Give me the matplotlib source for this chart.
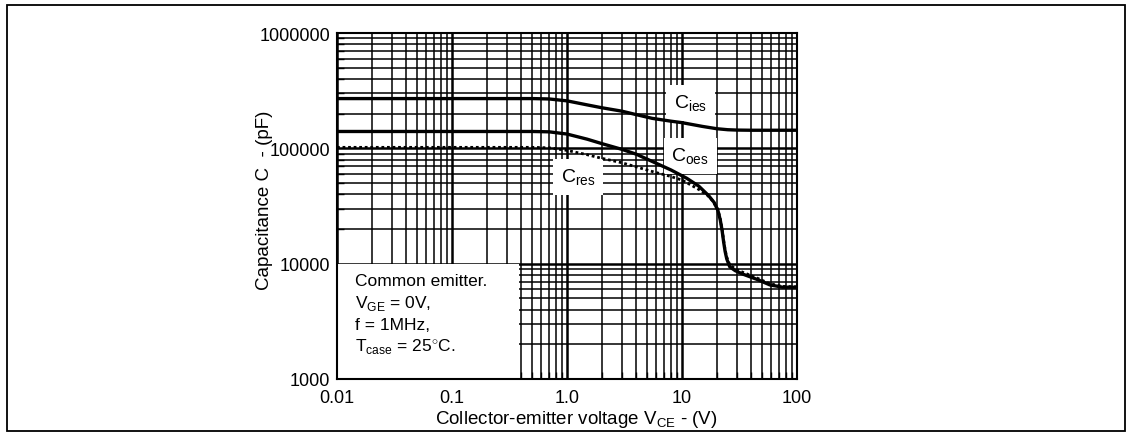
import matplotlib
matplotlib.use("Agg")
import matplotlib.pyplot as plt
from matplotlib.patches import Rectangle
from matplotlib.ticker import LogLocator, FixedLocator, FixedFormatter, NullFormatter

plt.rcParams['font.family'] = ['Liberation Sans', 'DejaVu Sans']
plt.rcParams['mathtext.fontset'] = 'custom'
plt.rcParams['mathtext.rm'] = 'Liberation Sans'

# values (V, pF)
vce_ies = [0.01, 0.5, 0.7, 1.0, 1.5, 2.0, 3.0, 4.0, 5.5, 8.0, 10.0, 15.0,
           20.0, 25.0, 30.0, 40.0, 100.0]
c_ies = [270000, 270000, 268000, 258000, 238000, 225000, 210000, 196000,
         182000, 172000, 167000, 155000, 148000, 145000, 144000, 143500, 143500]

vce_oes = [0.01, 0.5, 0.7, 1.0, 1.5, 2.0, 3.0, 4.0, 5.5, 8.0, 11.0, 14.0,
           17.0, 19.0, 20.5, 21.5, 22.3, 23.0, 23.7, 24.5, 26.0, 29.0, 34.0,
           45.0, 58.0, 75.0, 100.0]
c_oes = [140000, 140000, 139000, 133000, 120000, 110000, 98000, 89000, 77000,
         65000, 55000, 47000, 39000, 34000, 29000, 24000, 19500, 15500, 12800,
         11000, 9400, 8700, 8100, 7300, 6550, 6250, 6250]

vce_res = [0.01, 0.5, 0.7, 1.0, 1.5, 2.0, 3.0, 5.5, 8.0, 10.0, 12.0, 14.0,
           16.5, 18.5, 20.5, 21.5, 22.3, 23.0, 23.7, 24.5, 26.0, 29.0, 34.0,
           45.0, 58.0, 75.0, 100.0]
c_res = [102000, 102000, 101000, 96000, 88000, 82000, 75000, 63000, 57000,
         53000, 48000, 44000, 39500, 35000, 29500, 24500, 20000, 16000, 13200,
         11400, 9800, 9000, 8400, 7500, 6700, 6350, 6300]

x_ticks = [0.01, 0.1, 1.0, 10, 100]
x_tick_labels = ['0.01', '0.1', '1.0', '10', '100']
y_ticks = [1000, 10000, 100000, 1000000]
y_tick_labels = ['1000', '10000', '100000', '1000000']

# curve labels: text, V, pF
curve_labels = [(r'C$_{\mathregular{ies}}$', 11.8, 247000),
                (r'C$_{\mathregular{oes}}$', 11.8, 85700),
                (r'C$_{\mathregular{res}}$', 1.25, 56400)]

conditions = ['Common emitter.',
              r'V$_{\mathregular{GE}}$ = 0V,',
              'f = 1MHz,',
              r'T$_{\mathregular{case}}$ = 25$^{\circ}$C.']

W, H = 1132, 435
fig = plt.figure(figsize=(W / 100, H / 100), dpi=100)
ax = fig.add_axes([337 / W, 1 - 380 / H, 460 / W, 346 / H])

# outer frame of the datasheet figure
fig.patches.append(Rectangle((7 / W, 1 - 432 / H), 1118 / W, 426 / H,
                             transform=fig.transFigure, fill=False,
                             edgecolor='black', linewidth=1.3))

ax.set_xscale('log')
ax.set_yscale('log')
ax.set_xlim(0.01, 100)
ax.set_ylim(1000, 1000000)

ax.xaxis.set_major_locator(FixedLocator(x_ticks))
ax.xaxis.set_major_formatter(FixedFormatter(x_tick_labels))
ax.yaxis.set_major_locator(FixedLocator(y_ticks))
ax.yaxis.set_major_formatter(FixedFormatter(y_tick_labels))
ax.xaxis.set_minor_locator(LogLocator(base=10, subs=range(2, 10)))
ax.yaxis.set_minor_locator(LogLocator(base=10, subs=range(2, 10)))
ax.xaxis.set_minor_formatter(NullFormatter())
ax.yaxis.set_minor_formatter(NullFormatter())

ax.tick_params(which='both', direction='in', colors='black', labelsize=13,
               width=1.0)
ax.tick_params(which='major', length=0)
ax.tick_params(which='minor', length=5)
ax.tick_params(axis='x', pad=7)
ax.tick_params(axis='y', pad=5)
for s in ax.spines.values():
    s.set_linewidth(1.5)
    s.set_zorder(5)

# grid drawn by hand so the white panels hide it but not the ticks
for e in range(-2, 2):
    for m in range(1, 10):
        ax.axvline(m * 10.0 ** e, color='black',
                   linewidth=1.8 if m == 1 else 1.1, zorder=1)
for e in range(3, 6):
    for m in range(1, 10):
        ax.axhline(m * 10.0 ** e, color='black',
                   linewidth=1.8 if m == 1 else 1.1, zorder=1)

ax.plot(vce_ies, c_ies, color='black', linewidth=2.4, zorder=4)
ax.plot(vce_oes, c_oes, color='black', linewidth=2.4, zorder=4)
ax.plot(vce_res, c_res, color='black', linewidth=2.0,
        linestyle=(0, (1, 1)), zorder=4)

box = dict(facecolor='white', edgecolor='none', boxstyle='square,pad=0.4')
for txt, vx, vy in curve_labels:
    ax.text(vx, vy, txt, fontsize=14, ha='center', va='center', bbox=box,
            zorder=3)

# white panel holding the test conditions
ax.add_patch(Rectangle((0.0, 0.0), 0.395, 0.333, transform=ax.transAxes,
                       facecolor='white', edgecolor='none', zorder=2))
for i, line in enumerate(conditions):
    ax.text(0.04, 0.286 - i * 0.064, line, transform=ax.transAxes,
            fontsize=12.5, ha='left', va='center', zorder=3)

ax.set_xlabel(r'Collector-emitter voltage V$_{\mathregular{CE}}$ - (V)',
              fontsize=13.5)
ax.xaxis.set_label_coords(0.52, -0.085)
ax.set_ylabel('Capacitance C  - (pF)', fontsize=13.5)
ax.yaxis.set_label_coords(-0.139, 0.52)

fig.savefig('out.png', dpi=100)
